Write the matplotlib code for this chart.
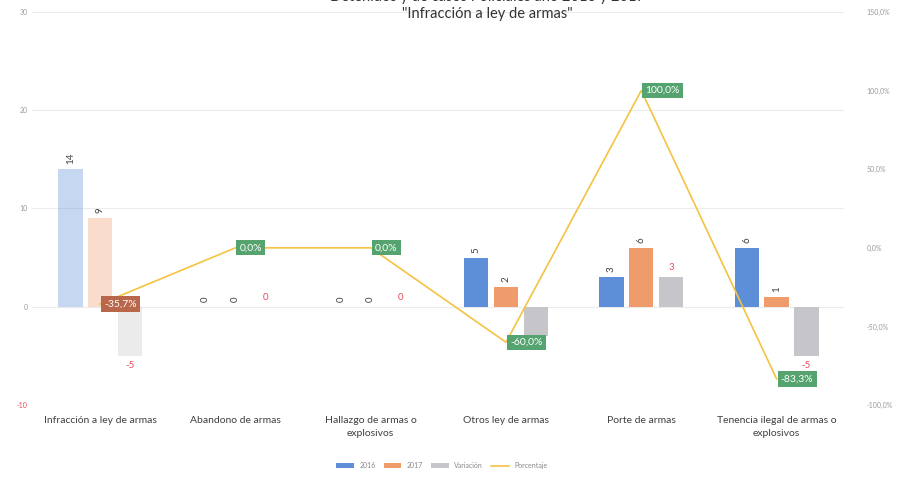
import matplotlib.pyplot as plt
import numpy as np

plt.rcParams['font.family'] = ['Lato', 'DejaVu Sans']

# data
categorias = ["Infracción a ley de armas", "Abandono de armas",
              "Hallazgo de armas o\nexplosivos", "Otros ley de armas",
              "Porte de armas", "Tenencia ilegal de armas o\nexplosivos"]
casos_2016 = [14, 0, 0, 5, 3, 6]
casos_2017 = [9, 0, 0, 2, 6, 1]
variacion = [-5, 0, 0, -3, 3, -5]
porcentaje = [-35.7, 0.0, 0.0, -60.0, 100.0, -83.3]

# label box colours, as printed
caja_color = ["#b8674a", "#55a36f", "#55a36f", "#55a36f", "#55a36f", "#55a36f"]

c16, c17, cvar, clin = "#5d8fd8", "#ef9b6b", "#c6c6ca", "#f5c242"

fig = plt.figure(figsize=(9.02, 4.9), dpi=100)
ax = fig.add_axes([0.036, 0.173, 0.90, 0.803])
ax2 = ax.twinx()

x = np.arange(len(categorias))
w = 0.18
off = 0.22

b1 = ax.bar(x - off, casos_2016, w, color=c16, label="2016", zorder=2)
b2 = ax.bar(x, casos_2017, w, color=c17, label="2017", zorder=2)
b3 = ax.bar(x + off, variacion, w, color=cvar, label="Variación", zorder=2)

# first group looks washed out in the printed copy
for b in (b1[0], b2[0], b3[0]):
    b.set_alpha(0.35)

for i in range(len(x)):
    ax.text(x[i] - off, casos_2016[i] + 0.5, str(casos_2016[i]), rotation=90,
            ha="center", va="bottom", fontsize=7, color="#404040")
    ax.text(x[i], casos_2017[i] + 0.5, str(casos_2017[i]), rotation=90,
            ha="center", va="bottom", fontsize=7, color="#404040")
    v = variacion[i]
    if v >= 0:
        ax.text(x[i] + off, v + 0.5, str(v), ha="center", va="bottom",
                fontsize=7, color="#e8495a")
    else:
        ax.text(x[i] + off, v - 0.5, str(v), ha="center", va="top",
                fontsize=7, color="#e8495a")

ax.set_ylim(-10, 30)
ax.set_yticks([-10, 0, 10, 20, 30])
ax.set_yticklabels(["-10", "0", "10", "20", "30"], fontsize=5, color="#9a9a9a")
ax.get_yticklabels()[0].set_color("#e8495a")
ax.grid(axis="y", color="#ececec", lw=0.8, zorder=0)
ax.set_axisbelow(True)
ax.set_xlim(-0.5, len(x) - 0.5)
ax.set_xticks(x)
ax.set_xticklabels(categorias, fontsize=7.5, color="#404040", linespacing=1.5)
ax.tick_params(axis="both", length=0)
ax.tick_params(axis="x", pad=8)

ax2.plot(x, porcentaje, color=clin, lw=1.2, label="Porcentaje", zorder=3)
ax2.set_ylim(-100, 150)
ax2.set_yticks([-100, -50, 0, 50, 100, 150])
ax2.set_yticklabels(["-100,0%", "-50,0%", "0,0%", "50,0%", "100,0%", "150,0%"],
                    fontsize=5, color="#9a9a9a")
ax2.tick_params(axis="y", length=0, pad=16)

for i in range(len(x)):
    ax2.annotate(f"{porcentaje[i]:.1f}%".replace(".", ","), (x[i], porcentaje[i]),
                 xytext=(3, 0), textcoords="offset points", ha="left", va="center",
                 fontsize=7.5, color="white", zorder=6,
                 bbox=dict(boxstyle="square,pad=0.3", fc=caja_color[i], ec="none"))

for a in (ax, ax2):
    for s in a.spines.values():
        s.set_visible(False)

# title, its first line cut by the photo edge
fig.text(0.54, 1.006, "Detenidos y de casos Policiales año 2016 y 2017",
         ha="center", va="center", fontsize=10.5, color="#333333")
fig.text(0.54, 0.972, "\"Infracción a ley de armas\"",
         ha="center", va="center", fontsize=10.5, color="#333333")

h1, l1 = ax.get_legend_handles_labels()
h2, l2 = ax2.get_legend_handles_labels()
ax.legend(h1 + h2, l1 + l2, loc="center", bbox_to_anchor=(0.49, 0.05),
          bbox_transform=fig.transFigure, ncol=4, frameon=False, fontsize=5,
          labelcolor="#8a8a8a", handlelength=2.5, handleheight=0.6,
          columnspacing=1.2)
for h in ax.get_legend().legend_handles[:3]:
    h.set_alpha(1)

fig.savefig("out.png", dpi=100)
